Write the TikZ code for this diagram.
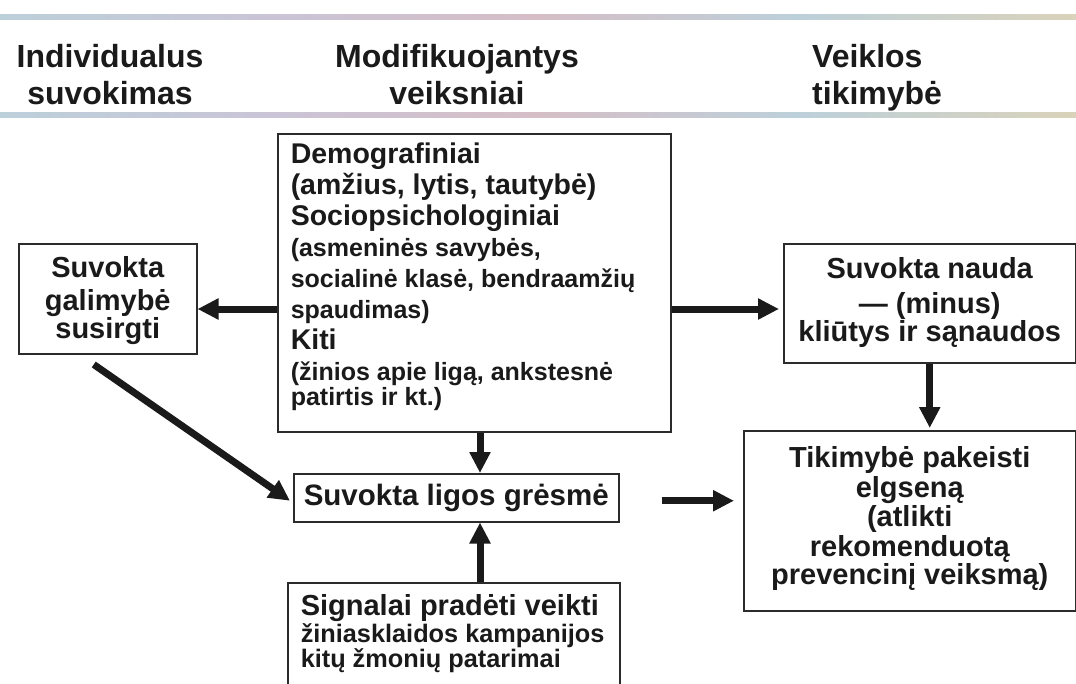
\documentclass[tikz,border=0pt]{standalone}
\usepackage{fontspec}
\setmainfont{Liberation Sans}
\usetikzlibrary{arrows.meta,calc}

\definecolor{ink}{HTML}{1A1A1A}
\definecolor{frame}{HTML}{2B2B2B}
\definecolor{bandA}{RGB}{214,190,198}
\definecolor{bandB}{RGB}{188,208,218}
\definecolor{bandC}{RGB}{218,210,186}
\definecolor{bandD}{RGB}{202,196,214}
\pgfdeclarehorizontalshading{bandshade}{100bp}{color(0bp)=(bandC); color(12bp)=(bandA); color(25bp)=(bandB); color(38bp)=(bandD); color(50bp)=(bandA); color(62bp)=(bandB); color(75bp)=(bandC); color(88bp)=(bandD); color(100bp)=(bandA)}

\newcommand{\fs}[2]{\fontsize{#1}{#2}\selectfont}

\tikzset{
  box/.style={draw=frame, line width=1.5pt, inner sep=0pt, text=ink,
    font=\bfseries, anchor=north west},
  hdr/.style={inner sep=0pt, text=ink, font=\bfseries\fs{32}{37}},
  arr/.style={draw=ink, line width=7pt, -{Triangle[length=21pt,width=20pt]}},
  band/.style={shading=bandshade}
}

\begin{document}
\begin{tikzpicture}[x=1pt,y=-1pt]
\useasboundingbox (0,0) rectangle (1076,683);
\clip (0,0) rectangle (1076,683);
\fill[white] (0,0) rectangle (1076,683);

% column headings between two coloured rules
\shade[band] (0,14) rectangle (1076,19);
\shade[band] (0,112) rectangle (1076,117);
\node[hdr, text width=220pt, align=flush center, anchor=base] (h1) at (110,67) {Individualus\\suvokimas};
\node[hdr, text width=300pt, align=flush center, anchor=base] (h2) at (457,67) {Modifikuojantys\\veiksniai};
\node[hdr, text width=200pt, align=flush left, anchor=base west] (h3) at (812,67) {Veiklos\\tikimybė};

% boxes
\node[box, text width=178pt, align=flush center, text height=34pt, text depth=76pt]
  (lbox) at (18,243) {\fs{29}{33}Suvokta\\galimybė\\susirgti};

\node[box, inner xsep=13pt, text width=367pt, align=flush left, text height=30pt, text depth=268pt]
  (cbox) at (277,133) {\fs{28.5}{31}Demografiniai\\(amžius, lytis, tautybė)\\Sociopsichologiniai\\\fs{25}{31}(asmeninės savybės,\\socialinė klasė, bendraamžių\\spaudimas)\\\fs{28.5}{31}Kiti\\\fs{25}{31}(žinios apie ligą, ankstesnė\\patirtis ir kt.)};

\node[box, text width=292pt, align=flush center, text height=35pt, text depth=84pt]
  (rbox) at (783,243) {\fs{29}{34.5}Suvokta nauda\\— (minus)\\kliūtys ir sąnaudos};

\node[box, text width=325pt, align=flush center, text height=32pt, text depth=16pt]
  (threat) at (293,473) {\fs{29.5}{31}Suvokta ligos grėsmė};

\node[box, text width=332pt, align=flush center, text height=37pt, text depth=143pt]
  (tbox) at (743,430) {\fs{29}{29.5}Tikimybė pakeisti\\elgseną\\(atlikti\\rekomenduotą\\prevencinį veiksmą)};

\node[box, inner xsep=13pt, text width=306pt, align=flush left, text height=33pt, text depth=110pt]
  (signal) at (287,582) {\fs{29}{27}Signalai pradėti veikti\\\fs{25.3}{27}žiniasklaidos kampanijos\\kitų žmonių patarimai};

% connectors
\coordinate (ax) at (480,0);
\coordinate (ay) at (0,309);
\draw[arr] (cbox.west |- ay) -- (lbox.east |- ay);
\draw[arr] (cbox.east |- ay) -- ($(rbox.west |- ay)+(-4,0)$);
\draw[arr] ($(lbox.south)+(-14,10)$) -- ($(threat.west)+(-3,3)$);
\draw[arr] (cbox.south -| ax) -- (threat.north -| ax);
\draw[arr] (signal.north -| ax) -- (threat.south -| ax);
\draw[arr] ($(threat.east)+(42,3)$) -- ($(tbox.west |- threat.east)+(-9,3)$);
\draw[arr] (rbox.south) -- ($(tbox.north -| rbox.south)+(0,-2)$);
\end{tikzpicture}
\end{document}
